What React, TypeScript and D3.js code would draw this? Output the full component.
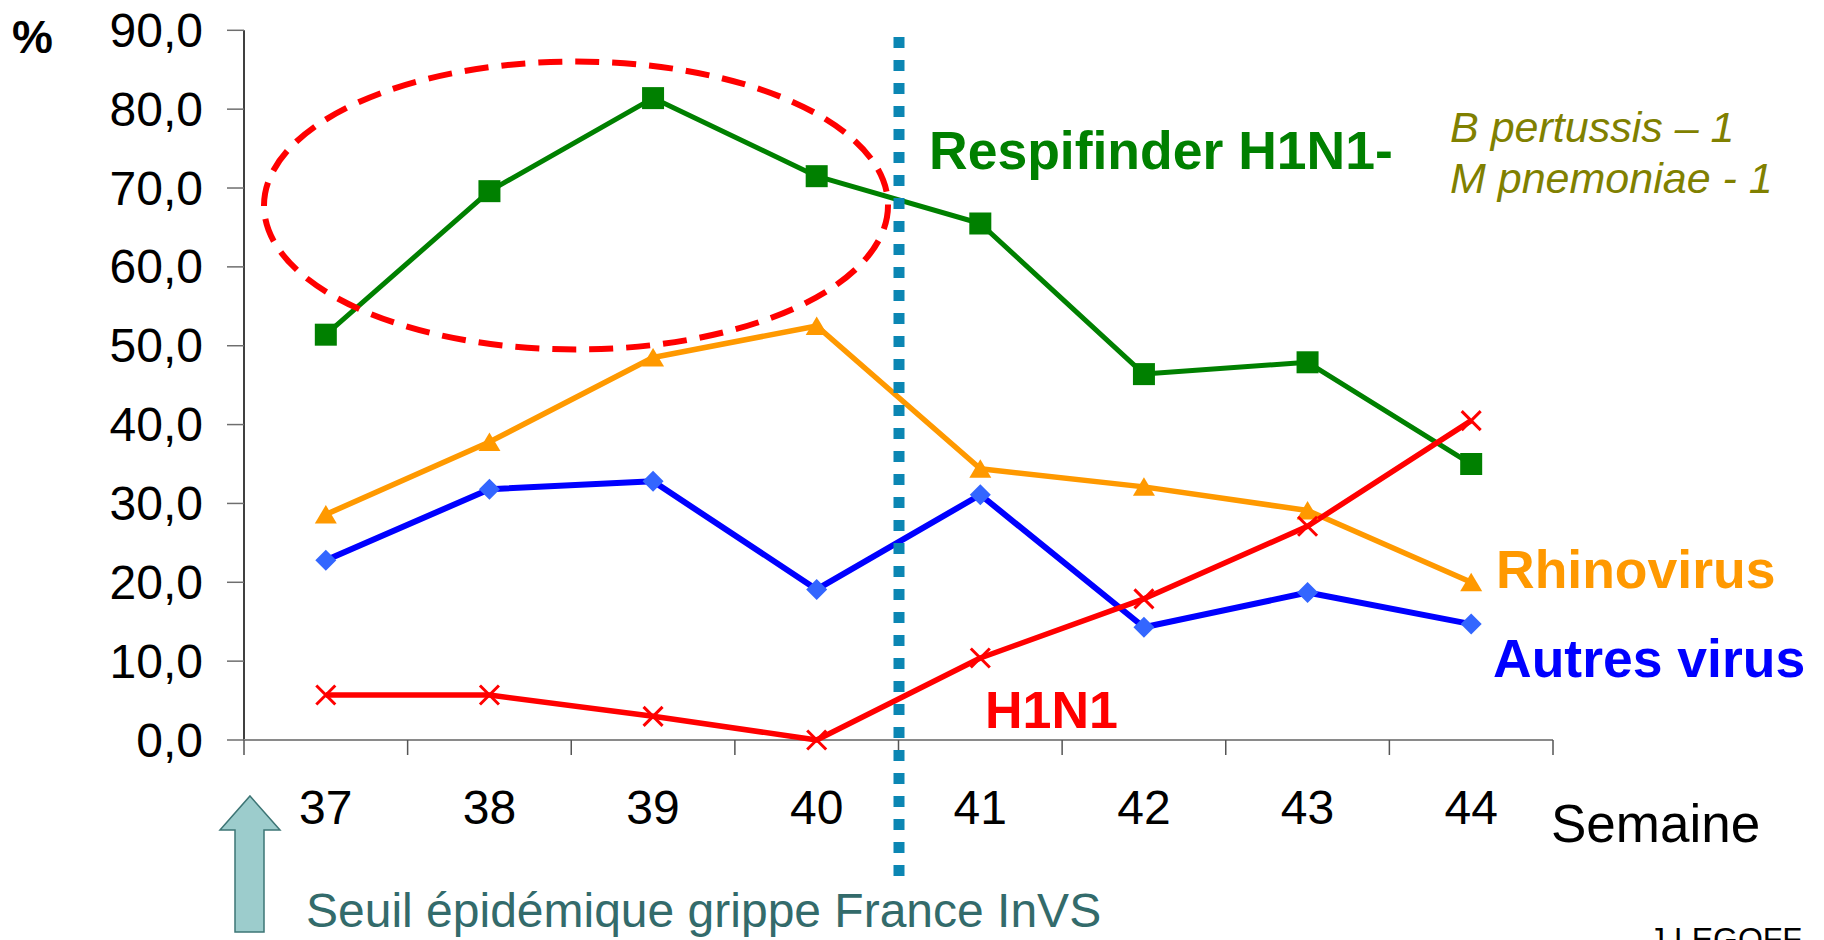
import React from "react";
import * as d3 from "d3";

const weeks = ["37", "38", "39", "40", "41", "42", "43", "44"];
const respifinder = [51.4, 69.6, 81.4, 71.5, 65.5, 46.4, 47.9, 35.0];
const rhinovirus = [28.6, 37.8, 48.5, 52.5, 34.4, 32.1, 29.1, 20.0];
const autresVirus = [22.8, 31.8, 32.8, 19.1, 31.1, 14.3, 18.7, 14.7];
const h1n1 = [5.7, 5.7, 3.0, 0.0, 10.4, 17.9, 27.1, 40.5];
const yTicks = [0, 10, 20, 30, 40, 50, 60, 70, 80, 90];

const FONT = "'Liberation Sans', Arial, sans-serif";

export default function App() {
  const left = 244;
  const right = 1553;
  const top = 30.3;
  const bottom = 740;

  const x = d3.scaleBand<string>().domain(weeks).range([left, right]);
  const cx = (w: string) => (x(w) as number) + x.bandwidth() / 2;
  const y = d3.scaleLinear().domain([0, 90]).range([bottom, top]);

  const line = d3
    .line<number>()
    .x((_, i) => cx(weeks[i]))
    .y((d) => y(d));

  const fmt = (v: number) => v.toFixed(1).replace(".", ",");
  const boundaries = d3.range(weeks.length + 1).map((i) => left + i * x.bandwidth());

  return (
    <svg
      width={1824}
      height={940}
      style={{ position: "absolute", left: 0, top: 0, background: "#fff" }}
      fontFamily={FONT}
    >
      <rect x={0} y={0} width={1824} height={940} fill="#fff" />

      {/* Y axis */}
      <line x1={left} x2={left} y1={top} y2={bottom} stroke="#000" strokeWidth={1.5} />
      {yTicks.map((t) => (
        <g key={t}>
          <line x1={227} x2={left} y1={y(t)} y2={y(t)} stroke="#6e6e6e" strokeWidth={1.5} />
          <text x={203} y={y(t) + 16.5} fontSize={48} textAnchor="end" fill="#000">
            {fmt(t)}
          </text>
        </g>
      ))}
      <text x={12} y={53} fontSize={46} fontWeight="bold" fill="#000">
        %
      </text>

      {/* X axis */}
      <line x1={left} x2={right} y1={bottom} y2={bottom} stroke="#8a8a8a" strokeWidth={2} />
      {boundaries.map((b, i) => (
        <line key={i} x1={b} x2={b} y1={bottom} y2={bottom + 15} stroke="#555" strokeWidth={1.5} />
      ))}
      {weeks.map((w) => (
        <text key={w} x={cx(w)} y={824} fontSize={48} textAnchor="middle" fill="#000">
          {w}
        </text>
      ))}
      <text x={1551} y={842} fontSize={53} fill="#000">
        Semaine
      </text>

      {/* Series lines */}
      <path d={line(respifinder) || ""} fill="none" stroke="#008000" strokeWidth={5} strokeLinejoin="round" />
      <path d={line(rhinovirus) || ""} fill="none" stroke="#ff9900" strokeWidth={5.5} strokeLinejoin="round" />
      <path d={line(autresVirus) || ""} fill="none" stroke="#0000ff" strokeWidth={6} strokeLinejoin="round" />
      <path d={line(h1n1) || ""} fill="none" stroke="#ff0000" strokeWidth={5.5} strokeLinejoin="round" />

      {/* Markers */}
      {respifinder.map((v, i) => (
        <rect key={"g" + i} x={cx(weeks[i]) - 11} y={y(v) - 11} width={22} height={22} fill="#008000" />
      ))}
      {rhinovirus.map((v, i) => {
        const px = cx(weeks[i]);
        const py = y(v);
        return (
          <polygon
            key={"o" + i}
            points={`${px},${py - 9.5} ${px + 11},${py + 9} ${px - 11},${py + 9}`}
            fill="#ff9900"
          />
        );
      })}
      {autresVirus.map((v, i) => {
        const px = cx(weeks[i]);
        const py = y(v);
        return (
          <polygon
            key={"b" + i}
            points={`${px},${py - 10.5} ${px + 10.5},${py} ${px},${py + 10.5} ${px - 10.5},${py}`}
            fill="#3366ff"
          />
        );
      })}
      {h1n1.map((v, i) => {
        const px = cx(weeks[i]);
        const py = y(v);
        return (
          <path
            key={"r" + i}
            d={`M${px - 9.5},${py - 9.5}L${px + 9.5},${py + 9.5}M${px - 9.5},${py + 9.5}L${px + 9.5},${py - 9.5}`}
            stroke="#ff0000"
            strokeWidth={3}
          />
        );
      })}

      {/* Dashed ellipse */}
      <ellipse
        cx={576}
        cy={205.5}
        rx={312}
        ry={144}
        fill="none"
        stroke="#ff0000"
        strokeWidth={6}
        strokeDasharray="24 13"
      />

      {/* Dotted threshold line */}
      <line x1={899} x2={899} y1={37} y2={884} stroke="#0b86b3" strokeWidth={11} strokeDasharray="11 12" />

      {/* Series labels */}
      <text x={929} y={169} fontSize={53.5} fontWeight="bold" fill="#008000">
        Respifinder H1N1-
      </text>
      <text x={1496} y={588} fontSize={53.5} fontWeight="bold" fill="#ff9900">
        Rhinovirus
      </text>
      <text x={1493} y={677} fontSize={53.5} fontWeight="bold" fill="#0000ff">
        Autres virus
      </text>
      <text x={985} y={728} fontSize={52} fontWeight="bold" fill="#ff0000">
        H1N1
      </text>
      <text x={1450} y={142} fontSize={43} fontStyle="italic" fill="#808000">
        B pertussis – 1
      </text>
      <text x={1450} y={193} fontSize={43} fontStyle="italic" fill="#808000">
        M pnemoniae - 1
      </text>

      {/* Arrow and threshold label */}
      <polygon
        points="250,796 280,830 264,830 264,932 235,932 235,830 220,830"
        fill="#9ccccc"
        stroke="#3d7575"
        strokeWidth={1.5}
      />
      <text x={306} y={927} fontSize={48} fill="#336b6b">
        Seuil épidémique grippe France InVS
      </text>

      <text x={1649} y={950} fontSize={32} fill="#000">
        J LEGOFF
      </text>
    </svg>
  );
}
